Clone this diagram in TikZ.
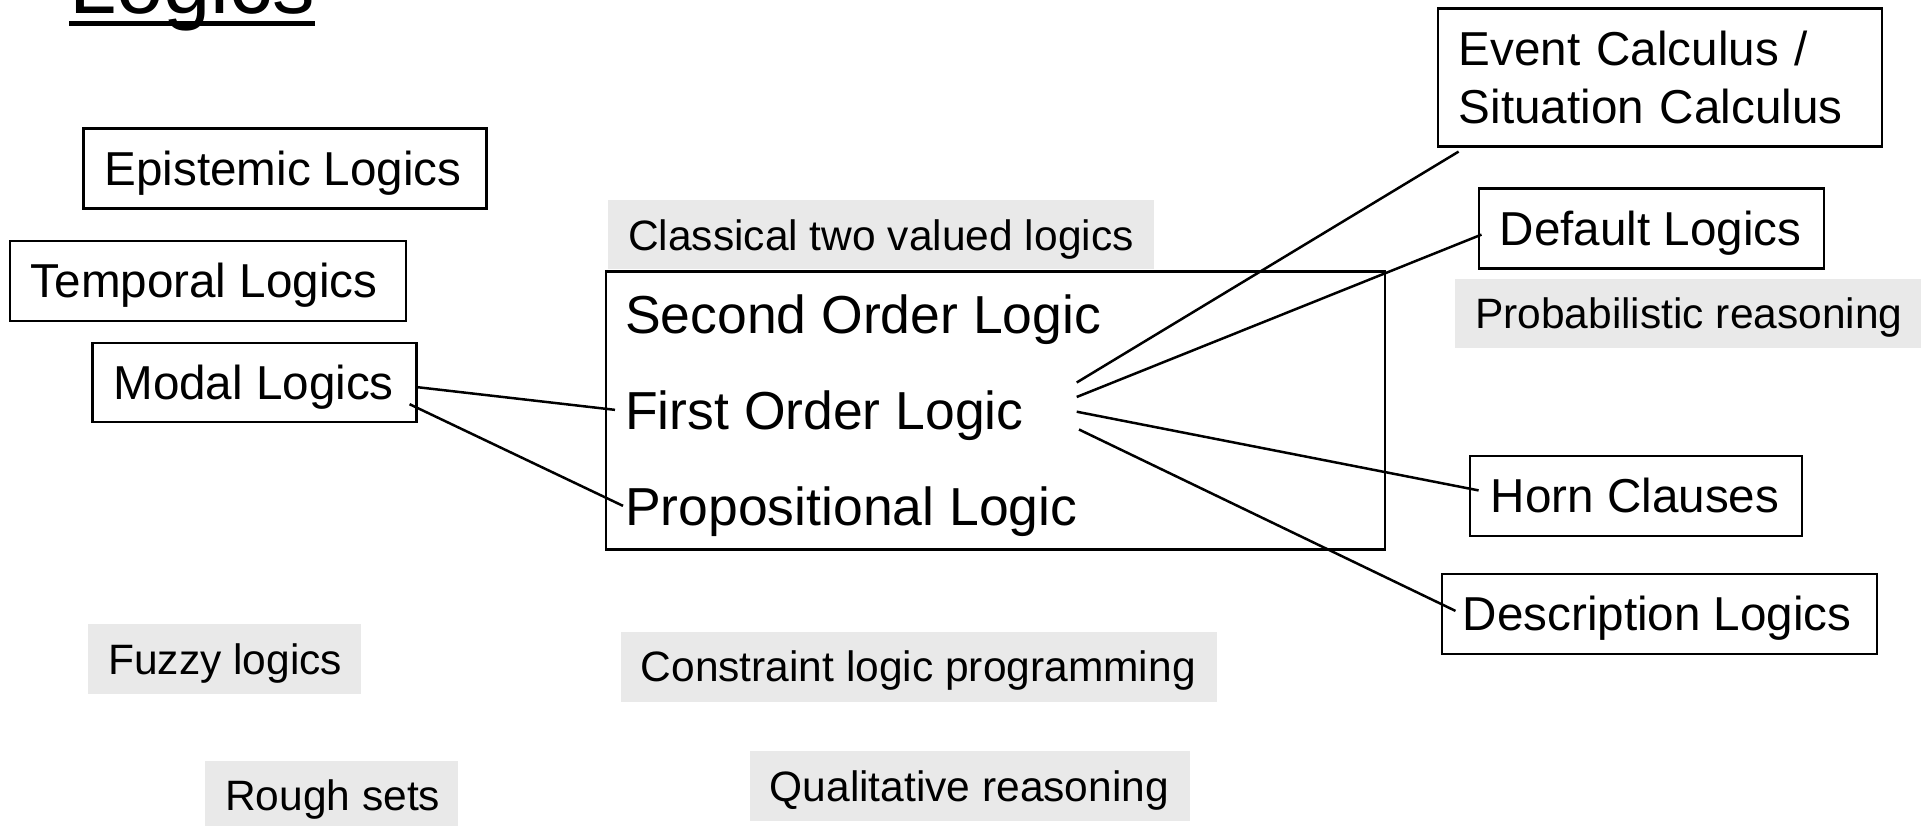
\documentclass[tikz,border=0pt]{standalone}
\usepackage{fontspec}
\setmainfont{Liberation Sans}
\definecolor{grayfill}{RGB}{233,233,233}
\newcommand{\lt}[2]{\makebox[#1][l]{#2}}
\begin{document}
\begin{tikzpicture}[x=1pt,y=-1pt,
  lbox/.style={draw, line width=2.4pt, font=\fontsize{47.6}{57.8}\selectfont,
    inner xsep=21pt, inner ysep=0pt, text height=34.1pt, text depth=0pt, minimum height=80pt},
  gbox/.style={fill=grayfill, font=\fontsize{42.5}{51}\selectfont,
    inner xsep=20pt, inner ysep=0pt, text height=30.4pt, text depth=0pt, minimum height=70pt},
  mtext/.style={anchor=base west, inner sep=0pt, font=\fontsize{53.5}{60}\selectfont,
    text height=38.3pt, text depth=0pt},
  link/.style={line width=2.5pt}]
\clip (0,0) rectangle (1927,825);
% title
\node[anchor=base west, inner sep=0pt, font=\fontsize{85}{85}\selectfont] (title) at (69,13.3) {Logics};
\draw[line width=5.3pt] ([yshift=-10pt]title.base west) -- ([yshift=-10pt]title.base east);
% left boxes
\node[lbox] (epi) at (285,168.4) {\lt{361pt}{Epistemic Logics}};
\node[lbox] (temp) at (207.7,280.8) {\lt{354pt}{Temporal Logics}};
\node[lbox, minimum height=79pt] (modal) at (254.4,382.2) {\lt{282pt}{Modal Logics}};
% classical
\node[gbox, minimum height=69pt] (classical) at (881.2,234.8) {\lt{506pt}{Classical two valued logics}};
\node[draw, line width=2.4pt, minimum width=779pt, minimum height=278pt, inner sep=0pt] (mainbox) at (995.5,410.5) {};
\node[mtext] (sol) at (625,333) {Second Order Logic};
\node[mtext] (fol) at (625,429) {First Order Logic};
\node[mtext] (pl) at (625,525) {Propositional Logic};
% right boxes
\node[draw, line width=2.4pt, font=\fontsize{47.6}{57.8}\selectfont, inner xsep=21pt, inner ysep=0pt,
  minimum width=444pt, minimum height=138pt, text width=402pt, align=left] (event) at (1659.8,77.4)
  {Event Calculus /\\Situation Calculus};
\node[lbox] (default) at (1651.2,228.6) {\lt{303pt}{Default Logics}};
\node[gbox, minimum height=69pt] (prob) at (1688,313.4) {\lt{426pt}{Probabilistic reasoning}};
\node[lbox] (horn) at (1635.8,495.9) {\lt{290pt}{Horn Clauses}};
\node[lbox] (desc) at (1659.2,613.9) {\lt{393pt}{Description Logics}};
% bottom gray
\node[gbox] (fuzzy) at (224.9,659.4) {\lt{233pt}{Fuzzy logics}};
\node[gbox] (constraint) at (918.7,666.7) {\lt{556pt}{Constraint logic programming}};
\node[gbox] (rough) at (331.8,795.7) {\lt{213pt}{Rough sets}};
\node[gbox] (qual) at (969.7,786) {\lt{400pt}{Qualitative reasoning}};
% connectors
\coordinate (c1) at (1076.7,382.5);
\coordinate (c2) at (1076.7,397);
\coordinate (c3) at (1076.7,411.7);
\coordinate (c4) at (1079,429.5);
\draw[link] ([yshift=-5pt]modal.east) -- ([xshift=-10pt]fol.west);
\draw[link] ([xshift=-8pt,yshift=-22pt]modal.east) -- ([xshift=-2pt]pl.west);
\draw[link] (c1) -- ([xshift=22pt,yshift=-4pt]event.south west);
\draw[link] (c2) -- ([xshift=4pt,yshift=-6pt]default.west);
\draw[link] (c3) -- ([xshift=10pt,yshift=5.5pt]horn.west);
\draw[link] (c4) -- ([xshift=15pt,yshift=3pt]desc.west);
\end{tikzpicture}
\end{document}
